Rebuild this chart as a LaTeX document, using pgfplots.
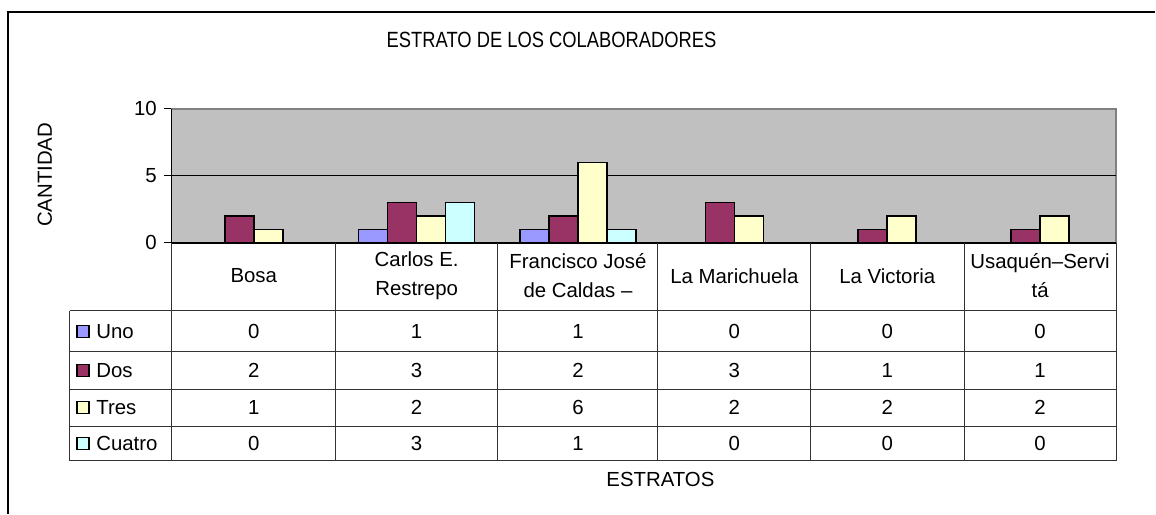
\documentclass[border=0pt]{standalone}
\usepackage{pgfplots}
\pgfplotsset{compat=1.18}
\usepackage{pgfplotstable}
\usepackage{fontspec}
\setmainfont{Liberation Sans}
\definecolor{cUno}{HTML}{9999FF}
\definecolor{cDos}{HTML}{993366}
\definecolor{cTres}{HTML}{FFFFCC}
\definecolor{cCuatro}{HTML}{CCFFFF}
\definecolor{plotbg}{HTML}{C0C0C0}

\pgfplotstableread{
x uno dos tres cuatro
254 0 2 1 0
417 1 3 2 3
578.5 1 2 6 1
735 0 3 2 0
888 0 1 2 0
1041 0 1 2 0
}\datatab

\begin{document}
\begin{tikzpicture}[font=\fontsize{10.2}{14.5}\selectfont]
\begin{scope}[x=0.5pt,y=-0.5pt]
\path[use as bounding box] (0,0) rectangle (1156,514);
\end{scope}
\begin{axis}[at={(86pt,-121.5pt)}, anchor=south west, scale only axis,
  width=472.5pt, height=67pt,
  xmin=172, xmax=1117, ymin=0, ymax=10, clip=false,
  axis background/.style={fill=plotbg},
  axis line style={draw=gray, line width=0.6pt},
  xtick={254,417,578.5,735,888,1041},
  xticklabels={Bosa,{Carlos E.\\Restrepo},{Francisco José\\de Caldas –},La Marichuela,La Victoria,{Usaquén–Servi\\tá}},
  x tick style={draw=none},
  xticklabel style={anchor=center, align=center, yshift=-12.5pt, font=\fontsize{10.2}{14.5}\selectfont},
  ytick={0,5,10}, ytick pos=left,
  extra y ticks={5}, extra y tick labels={},
  extra y tick style={grid=major, major grid style={black, line width=0.5pt}, ytick pos=left},
  tick align=outside, major tick length=4pt,
  y tick style={black, line width=0.5pt},
  yticklabel style={/pgf/number format/assume math mode=true, font=\fontsize{10.2}{12}\selectfont},
  every node near coord/.append style={anchor=center, inner sep=0pt, font=\fontsize{10.2}{12}\selectfont},
]
\addplot[ybar, bar width=29, bar shift=-43.5, fill=cUno, draw=black, line width=0.8pt, y filter/.expression={y==0 ? nan : y}, unbounded coords=discard] table[x=x, y=uno]{\datatab};
\addplot[ybar, bar width=29, bar shift=-14.5, fill=cDos, draw=black, line width=0.8pt, y filter/.expression={y==0 ? nan : y}, unbounded coords=discard] table[x=x, y=dos]{\datatab};
\addplot[ybar, bar width=29, bar shift=14.5, fill=cTres, draw=black, line width=0.8pt, y filter/.expression={y==0 ? nan : y}, unbounded coords=discard] table[x=x, y=tres]{\datatab};
\addplot[ybar, bar width=29, bar shift=43.5, fill=cCuatro, draw=black, line width=0.8pt, y filter/.expression={y==0 ? nan : y}, unbounded coords=discard] table[x=x, y=cuatro]{\datatab};
\addplot[draw=none, mark=none, nodes near coords, point meta=explicit symbolic] table[x=x, y expr=-6.604, meta=uno]{\datatab};
\addplot[draw=none, mark=none, nodes near coords, point meta=explicit symbolic] table[x=x, y expr=-9.515, meta=dos]{\datatab};
\addplot[draw=none, mark=none, nodes near coords, point meta=explicit symbolic] table[x=x, y expr=-12.313, meta=tres]{\datatab};
\addplot[draw=none, mark=none, nodes near coords, point meta=explicit symbolic] table[x=x, y expr=-15.0, meta=cuatro]{\datatab};
\draw[black, line width=0.6pt] (rel axis cs:0,0) -- (rel axis cs:0,1);
\draw[black, line width=0.8pt] (rel axis cs:0,0) -- (rel axis cs:1,0);
\end{axis}
\begin{scope}[x=0.5pt,y=-0.5pt]
% frame
\draw[black, line width=1pt] (8.5,514) -- (8.5,12.5) -- (1156,12.5);
% title and labels
\node[xscale=0.9, yscale=1.08] at (552,40) {ESTRATO DE LOS COLABORADORES};
\node[rotate=90] at (45,175) {CANTIDAD};
\node at (661,480) {ESTRATOS};
% table lines
\begin{scope}[black!80, line width=0.5pt]
\foreach \yy in {311,352,389.5,427,461} \draw (70,\yy) -- (1117,\yy);
\draw (70,311) -- (70,461);
\foreach \xx in {172,336,498,658,811,965,1117} \draw (\xx,243) -- (\xx,461);
\end{scope}
% legend keys
\foreach \yy/\cc/\tt in {331.5/cUno/Uno,370.5/cDos/Dos,408/cTres/Tres,444/cCuatro/Cuatro}{
  \draw[fill=\cc, line width=0.6pt] (77,\yy-6) rectangle (89,\yy+6);
  \node[anchor=west, inner sep=0pt] at (96,\yy) {\tt};
}
\end{scope}
\end{tikzpicture}
\end{document}
